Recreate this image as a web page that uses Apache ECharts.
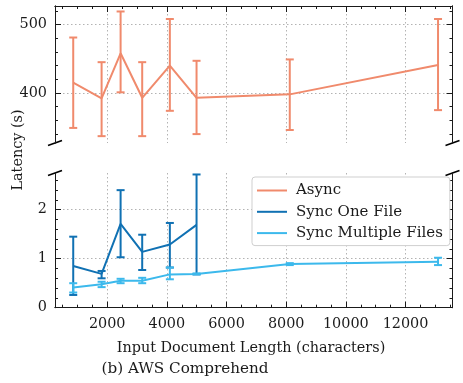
<!DOCTYPE html>
<html>
<head>
<meta charset="utf-8">
<script src="https://cdn.jsdelivr.net/npm/echarts@6/dist/echarts.min.js"></script>
<style>
  html, body { margin: 0; padding: 0; background: #fff; }
  #chart { width: 463px; height: 383px; }
</style>
</head>
<body>
<div id="chart"></div>
<script>
// input document length (characters)
const docLength = [861, 1812, 2449, 3173, 4100, 4995, 8120, 13090];

// Async latency (s): mean, lower, upper
const asyncMean = [415, 392, 458, 393, 440, 393, 398, 441];
const asyncLow = [349, 337, 401, 337, 374, 340, 346, 375];
const asyncHigh = [481, 445, 519, 445, 508, 447, 449, 508];

// Sync One File (only first six lengths)
const oneMean = [0.85, 0.69, 1.71, 1.14, 1.29, 1.69];
const oneLow = [0.26, 0.60, 1.03, 0.77, 0.82, 0.68];
const oneHigh = [1.45, 0.75, 2.40, 1.49, 1.73, 2.72];

// Sync Multiple Files
const multiMean = [0.41, 0.48, 0.55, 0.55, 0.68, 0.69, 0.89, 0.94];
const multiLow = [0.31, 0.42, 0.50, 0.50, 0.58, 0.68, 0.87, 0.87];
const multiHigh = [0.50, 0.53, 0.59, 0.61, 0.82, 0.70, 0.91, 1.02];

// ticks
const xMajor = [2000, 4000, 6000, 8000, 10000, 12000];
const xMinor = [500, 1000, 1500, 2500, 3000, 3500, 4500, 5000, 5500, 6500, 7000, 7500,
  8500, 9000, 9500, 10500, 11000, 11500, 12500, 13000, 13500];
const topMajor = [400, 500];
const topMinor = [340, 360, 380, 420, 440, 460, 480, 520];
const botMajor = [0, 1, 2];
const botMinor = [0.2, 0.4, 0.6, 0.8, 1.2, 1.4, 1.6, 1.8, 2.2, 2.4, 2.6];

const names = ['Async', 'Sync One File', 'Sync Multiple Files'];
const colors = ['#f08a6c', '#1071b3', '#3cb9ec'];

const FONT = 'DejaVu Serif';
const INK = '#1a1a1a';
const L = 55, R = 10.5;
const topGrid = { top: 6, height: 137 };
const botGrid = { top: 173, height: 134.7 };

const chart = echarts.init(document.getElementById('chart'));

// one axis side: major or minor ticks only through customValues
function axisSide(grid, position, min, max, values, opts) {
  opts = opts || {};
  return {
    type: 'value',
    gridIndex: grid,
    position: position,
    min: min,
    max: max,
    axisLine: { show: opts.line !== false, onZero: false, lineStyle: { color: INK, width: 1 } },
    axisTick: {
      show: true, inside: true, length: opts.minor ? 3 : 6,
      customValues: values,
      lineStyle: { color: INK, width: 1 }
    },
    axisLabel: {
      show: !!opts.labels,
      customValues: values,
      formatter: (v) => String(v),
      fontFamily: FONT, fontSize: 14.4, color: INK,
      margin: opts.margin || 8
    },
    splitLine: {
      show: !!opts.grid,
      lineStyle: { color: '#a0a0a0', type: [1.5, 2.5], width: 0.8 }
    }
  };
}

function errorBars(data, xi, yi, color) {
  return {
    type: 'custom',
    xAxisIndex: xi,
    yAxisIndex: yi,
    z: 3,
    encode: { x: 0, y: [1, 2] },
    data: data,
    renderItem: function (params, api) {
      const x = api.value(0);
      const lo = api.coord([x, api.value(1)]);
      const hi = api.coord([x, api.value(2)]);
      const cap = 4;
      const style = { stroke: color, lineWidth: 2 };
      return {
        type: 'group',
        children: [
          { type: 'line', shape: { x1: lo[0], y1: lo[1], x2: hi[0], y2: hi[1] }, style: style },
          { type: 'line', shape: { x1: lo[0] - cap, y1: lo[1], x2: lo[0] + cap, y2: lo[1] }, style: style },
          { type: 'line', shape: { x1: hi[0] - cap, y1: hi[1], x2: hi[0] + cap, y2: hi[1] }, style: style }
        ]
      };
    }
  };
}

const asyncPts = docLength.map((x, i) => [x, asyncMean[i]]);
const onePts = oneMean.map((v, i) => [docLength[i], v]);
const multiPts = docLength.map((x, i) => [x, multiMean[i]]);
const asyncErr = docLength.map((x, i) => [x, asyncLow[i], asyncHigh[i]]);
const oneErr = oneMean.map((v, i) => [docLength[i], oneLow[i], oneHigh[i]]);
const multiErr = docLength.map((x, i) => [x, multiLow[i], multiHigh[i]]);

const xMin = 250, xMax = 13575;

// break marks at the gap between the two panels
const breakY1 = topGrid.top + topGrid.height;
const breakY2 = botGrid.top;
const rightX = 463 - R;
function breakMark(cx, cy) {
  return {
    type: 'line',
    shape: { x1: cx - 7, y1: cy + 2.5, x2: cx + 7, y2: cy - 2.5 },
    style: { stroke: '#000', lineWidth: 1.6 }
  };
}

const option = {
  animation: false,
  backgroundColor: '#fff',
  grid: [
    { left: L, right: R, top: topGrid.top, height: topGrid.height },
    { left: L, right: R, top: botGrid.top, height: botGrid.height }
  ],
  xAxis: [
    axisSide(0, 'top', xMin, xMax, xMajor, { grid: true }),
    axisSide(0, 'top', xMin, xMax, xMinor, { minor: true }),
    axisSide(1, 'bottom', xMin, xMax, xMajor, { grid: true, labels: true, margin: 10 }),
    axisSide(1, 'bottom', xMin, xMax, xMinor, { minor: true })
  ],
  yAxis: [
    axisSide(0, 'left', 327, 527, topMajor, { grid: true, labels: true }),
    axisSide(0, 'left', 327, 527, topMinor, { minor: true }),
    axisSide(0, 'right', 327, 527, topMajor, {}),
    axisSide(0, 'right', 327, 527, topMinor, { minor: true }),
    axisSide(1, 'left', 0, 2.75, botMajor, { grid: true, labels: true }),
    axisSide(1, 'left', 0, 2.75, botMinor, { minor: true }),
    axisSide(1, 'right', 0, 2.75, botMajor, {}),
    axisSide(1, 'right', 0, 2.75, botMinor, { minor: true })
  ],
  legend: {
    data: names.map((n) => ({ name: n, icon: 'rect' })),
    orient: 'vertical',
    left: 252,
    top: 177,
    itemWidth: 30,
    itemHeight: 2,
    itemGap: 6.3,
    padding: [6, 7, 5, 5],
    backgroundColor: '#fff',
    borderColor: '#cfcfcf',
    borderWidth: 1,
    borderRadius: 3,
    textStyle: { fontFamily: FONT, fontSize: 15, color: INK, lineHeight: 14, padding: [0, 0, 0, 4] }
  },
  series: [
    {
      name: names[0], type: 'line', xAxisIndex: 0, yAxisIndex: 0,
      data: asyncPts, symbol: 'none', z: 2,
      lineStyle: { color: colors[0], width: 2 }, itemStyle: { color: colors[0] }
    },
    {
      name: names[1], type: 'line', xAxisIndex: 2, yAxisIndex: 4,
      data: onePts, symbol: 'none', z: 2,
      lineStyle: { color: colors[1], width: 2 }, itemStyle: { color: colors[1] }
    },
    {
      name: names[2], type: 'line', xAxisIndex: 2, yAxisIndex: 4,
      data: multiPts, symbol: 'none', z: 4,
      lineStyle: { color: colors[2], width: 2 }, itemStyle: { color: colors[2] }
    },
    errorBars(asyncErr, 0, 0, colors[0]),
    errorBars(oneErr, 2, 4, colors[1]),
    errorBars(multiErr, 2, 4, colors[2])
  ],
  graphic: [
    breakMark(L, breakY1), breakMark(L, breakY2),
    breakMark(rightX, breakY1), breakMark(rightX, breakY2),
    {
      type: 'text', x: 18, y: 150, rotation: Math.PI / 2,
      style: { text: 'Latency (s)', fontFamily: FONT, fontSize: 14.4, fill: INK, align: 'center', verticalAlign: 'middle' }
    },
    {
      type: 'text', x: 251, y: 348,
      style: { text: 'Input Document Length (characters)', fontFamily: FONT, fontSize: 14.4, fill: INK, align: 'center', verticalAlign: 'middle' }
    },
    {
      type: 'text', x: 185, y: 369,
      style: { text: '(b) AWS Comprehend', fontFamily: FONT, fontSize: 15.2, fill: INK, align: 'center', verticalAlign: 'middle' }
    }
  ]
};

chart.setOption(option);
window.addEventListener('resize', () => chart.resize());
</script>
</body>
</html>
